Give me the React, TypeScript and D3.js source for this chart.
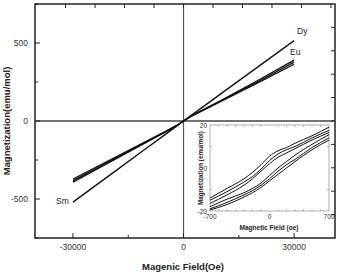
import React from "react";
import * as d3 from "d3";

const fields = [-30000, -20000, -10000, -5000, -2000, 0, 2000, 5000, 10000, 20000, 30000];
const dySm = [-520, -347, -173, -87, -35, 0, 35, 86, 172, 344, 515];
const eu1 = [-372, -250, -128, -68, -30, 0, 31, 68, 130, 258, 390];
const eu2 = [-382, -257, -132, -70, -31, 0, 30, 66, 127, 250, 377];
const eu3 = [-392, -264, -136, -72, -32, 0, 29, 64, 124, 243, 364];

const yMajor = [-500, 0, 500];
const yMinor = [-750, -250, 250, 750];
const xMajor = [-30000, 0, 30000];
const xMinor = [-15000, 15000];
const topTicks = [-32000, -24000, -16000, -8000, 0, 8000, 16000, 24000, 32000, 40000];
const rightTicks = [-600, -450, -300, -150, 0, 150, 300, 450, 600];

const hf = [-700, -500, -300, -200, -100, 0, 100, 200, 300, 500, 700];
const loops = [
  [-14, -9.5, -5, -2, 1.5, 5.5, 8, 9.5, 11.5, 15, 19],
  [-18, -14.5, -11.5, -9.5, -7, -3.5, 0, 3, 6, 11, 15.5],
  [-15, -11, -6.5, -4, -0.5, 3.5, 6.5, 8.5, 10, 14, 17.5],
  [-19, -16, -12.5, -10.5, -8, -5, -1.5, 1.5, 4, 9.5, 14],
  [-16.5, -12.5, -8, -5, -1.5, 2, 5, 7, 9, 13, 16.5],
  [-19.5, -17, -13.5, -11.5, -9, -6, -3, 0, 3, 8.5, 13],
];
const insetYTicks = [-20, 0, 20];
const insetYMinor = [-10, 10];
const insetXTicks = [-700, 0, 700];
const insetXMinor = [-600, -500, -400, -300, -200, -100, 100, 200, 300, 400, 500, 600];

const FONT = "'Liberation Sans', Arial, sans-serif";

export default function App() {
  const x = d3.scaleLinear().domain([-40300, 41100]).range([35, 335]);
  const y = d3.scaleLinear().domain([-750, 750]).range([238, 4]);
  const line = d3
    .line<number>()
    .x((_, i) => x(fields[i]))
    .y((d) => y(d));

  const ix = d3.scaleLinear().domain([-700, 700]).range([210, 329]);
  const iy = d3.scaleLinear().domain([-20, 20]).range([211, 125]);
  const iline = d3
    .line<number>()
    .x((_, i) => ix(hf[i]))
    .y((d) => iy(d))
    .curve(d3.curveMonotoneX);

  const [x0, x1] = x.range();
  const [y1, y0] = y.range();

  return (
    <svg width={344} height={276} style={{ position: "absolute", left: 0, top: 0 }}>
      <rect width={344} height={276} fill="#fff" />
      {/* zero lines */}
      <line x1={x(0)} x2={x(0)} y1={y0} y2={y1} stroke="#555" strokeWidth={1.2} />
      <line x1={x0} x2={x1} y1={y(0)} y2={y(0)} stroke="#444" strokeWidth={1.3} />
      {/* data */}
      {[eu1, eu2, eu3].map((s, i) => (
        <path key={i} d={line(s) || ""} fill="none" stroke="#111" strokeWidth={1.3} />
      ))}
      <path d={line(dySm) || ""} fill="none" stroke="#111" strokeWidth={1.4} />
      {/* frame */}
      <rect x={x0} y={y0} width={x1 - x0} height={y1 - y0} fill="none" stroke="#222" strokeWidth={1.5} />
      {/* ticks */}
      {yMajor.map((v) => (
        <line key={"ym" + v} x1={x0} x2={x0 + 5} y1={y(v)} y2={y(v)} stroke="#222" strokeWidth={1} />
      ))}
      {yMinor.map((v) => (
        <line key={"yn" + v} x1={x0} x2={x0 + 3} y1={y(v)} y2={y(v)} stroke="#222" strokeWidth={1} />
      ))}
      {xMajor.map((v) => (
        <line key={"xm" + v} x1={x(v)} x2={x(v)} y1={y1} y2={y1 - 5} stroke="#222" strokeWidth={1} />
      ))}
      {xMinor.map((v) => (
        <line key={"xn" + v} x1={x(v)} x2={x(v)} y1={y1} y2={y1 - 3} stroke="#222" strokeWidth={1} />
      ))}
      {topTicks.map((v) => (
        <line key={"tt" + v} x1={x(v)} x2={x(v)} y1={y0} y2={y0 + 4} stroke="#222" strokeWidth={1} />
      ))}
      {rightTicks.map((v) => (
        <line key={"rt" + v} x1={x1} x2={x1 - 4} y1={y(v)} y2={y(v)} stroke="#222" strokeWidth={1} />
      ))}
      {/* tick labels */}
      {yMajor.map((v) => (
        <text key={"yl" + v} x={28} y={y(v) + 3} textAnchor="end" fontFamily={FONT} fontSize={8.5} fill="#333">
          {v}
        </text>
      ))}
      {xMajor.map((v) => (
        <text key={"xl" + v} x={x(v)} y={250} textAnchor="middle" fontFamily={FONT} fontSize={8.5} fill="#333">
          {v}
        </text>
      ))}
      {/* titles */}
      <text x={183} y={270} textAnchor="middle" fontFamily={FONT} fontSize={9.5} fontWeight="bold" fill="#222">
        Magenic Field(Oe)
      </text>
      <text
        transform={`translate(10,${121}) rotate(-90)`}
        textAnchor="middle"
        fontFamily={FONT}
        fontSize={9.5}
        fontWeight="bold"
        fill="#222"
      >
        Magnetization(emu/mol)
      </text>
      {/* series labels */}
      <text x={297} y={34} fontFamily={FONT} fontSize={8.5} fill="#222">Dy</text>
      <text x={290} y={55} fontFamily={FONT} fontSize={8.5} fill="#222">Eu</text>
      <text x={56} y={204} fontFamily={FONT} fontSize={8.5} fill="#222">Sm</text>

      {/* inset */}
      <rect x={210} y={125} width={119} height={86} fill="#fff" stroke="#999" strokeWidth={0.8} />
      {loops.map((s, i) => (
        <path key={"lp" + i} d={iline(s) || ""} fill="none" stroke="#111" strokeWidth={1} />
      ))}
      {insetXMinor.map((v) => (
        <g key={"ixm" + v}>
          <line x1={ix(v)} x2={ix(v)} y1={125} y2={127} stroke="#999" strokeWidth={0.7} />
          <line x1={ix(v)} x2={ix(v)} y1={211} y2={209} stroke="#999" strokeWidth={0.7} />
        </g>
      ))}
      {insetYMinor.map((v) => (
        <g key={"iym" + v}>
          <line x1={210} x2={212} y1={iy(v)} y2={iy(v)} stroke="#999" strokeWidth={0.7} />
          <line x1={329} x2={327} y1={iy(v)} y2={iy(v)} stroke="#999" strokeWidth={0.7} />
        </g>
      ))}
      {insetYTicks.map((v) => (
        <text key={"iyl" + v} x={207} y={iy(v) + 2.5} textAnchor="end" fontFamily={FONT} fontSize={6.5} fill="#333">
          {v}
        </text>
      ))}
      {insetXTicks.map((v) => (
        <text key={"ixl" + v} x={ix(v)} y={219} textAnchor="middle" fontFamily={FONT} fontSize={6.5} fill="#333">
          {v}
        </text>
      ))}
      <text x={269} y={230} textAnchor="middle" fontFamily={FONT} fontSize={6.5} fontWeight="bold" fill="#222">
        Magnetic Field (oe)
      </text>
      <text
        transform={`translate(203,168) rotate(-90)`}
        textAnchor="middle"
        fontFamily={FONT}
        fontSize={6.3}
        fontWeight="bold"
        fill="#222"
      >
        Magnetization (emu/mol)
      </text>
    </svg>
  );
}
